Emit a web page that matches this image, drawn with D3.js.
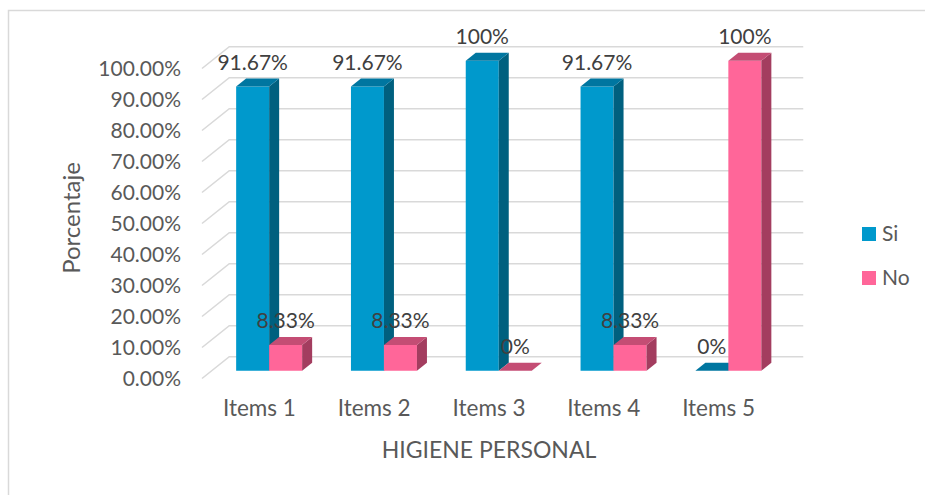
<!DOCTYPE html>
<html>
<head>
<meta charset="utf-8">
<script src="https://cdn.jsdelivr.net/npm/d3@7/dist/d3.min.js"></script>
<style>
  html, body { margin: 0; padding: 0; background: #fff; }
  svg { display: block; font-family: Lato, "Open Sans", sans-serif; }
</style>
</head>
<body>
<svg id="chart" width="925" height="495"></svg>
<script>
const categories = ["Items 1", "Items 2", "Items 3", "Items 4", "Items 5"];
const seriesNames = ["Si", "No"];
const siValues = [91.67, 91.67, 100, 91.67, 0];
const noValues = [8.33, 8.33, 0, 8.33, 100];
const tickValues = [0, 10, 20, 30, 40, 50, 60, 70, 80, 90, 100];
const xTitle = "HIGIENE PERSONAL";
const yTitle = "Porcentaje";

const colors = {
  Si: { front: "#0099CC", side: "#00607F", top: "#0076A0" },
  No: { front: "#FF6699", side: "#A33D5F", top: "#C44D74" }
};

const svg = d3.select("#chart");

// frame
svg.append("rect").attr("x", 8.5).attr("y", 10.5).attr("width", 930).attr("height", 500)
  .attr("fill", "none").attr("stroke", "#d9d9d9").attr("stroke-width", 1.5);

// 3D geometry
const frontLeft = 202, frontRight = 776;
const y = d3.scaleLinear().domain([0, 100]).range([378.5, 68.5]);
const x = d3.scaleBand().domain(categories).range([frontLeft, frontRight]);
const series = d3.scaleBand().domain(seriesNames).range([-33, 33]);
const kx = 1.25;               // horizontal shift per unit of depth
const dFront = 7.8, dBack = 15.8, dWall = 21.8;
const P = (xf, v, d) => [xf + d * kx, y(v) - d];

// gridlines (floor edge + back wall)
const grid = svg.append("g");
tickValues.forEach(v => {
  const pts = [[frontLeft, y(v)], P(frontLeft, v, dWall), P(frontRight, v, dWall)];
  grid.append("polyline").attr("points", pts.map(p => p.join(",")).join(" "))
    .attr("fill", "none").attr("stroke", "#d9d9d9").attr("stroke-width", 1.6);
});

// y tick labels
const fmtTick = d3.format(".2f");
svg.append("g").selectAll("text").data(tickValues).join("text")
  .attr("x", 181).attr("y", d => y(d))
  .attr("dy", "0.35em").attr("text-anchor", "end")
  .attr("fill", "#595959").attr("font-size", 21)
  .text(d => fmtTick(d) + "%");

// bars
const data = [];
categories.forEach((c, i) => {
  data.push({ cat: c, s: "Si", v: siValues[i] });
  data.push({ cat: c, s: "No", v: noValues[i] });
});
const poly = pts => pts.map(p => p.join(",")).join(" ");
const bars = svg.append("g");
data.forEach(d => {
  const cx = x(d.cat) + x.bandwidth() / 2;
  const xl = cx + series(d.s), xr = xl + series.bandwidth();
  const col = colors[d.s];
  const g = bars.append("g");
  const fl0 = P(xl, 0, dFront), fr0 = P(xr, 0, dFront);
  const flt = P(xl, d.v, dFront), frt = P(xr, d.v, dFront);
  const brt = P(xr, d.v, dBack), blt = P(xl, d.v, dBack), br0 = P(xr, 0, dBack);
  g.append("polygon").attr("points", poly([fl0, fr0, frt, flt])).attr("fill", col.front);
  g.append("polygon").attr("points", poly([fr0, frt, brt, br0])).attr("fill", col.side);
  g.append("polygon").attr("points", poly([flt, frt, brt, blt])).attr("fill", col.top);
  d.lx = (fl0[0] + fr0[0]) / 2;
  d.ly = blt[1] - 16;
});

// data labels
const fmtVal = v => (+v.toFixed(2)) + "%";
svg.append("g").selectAll("text").data(data).join("text")
  .attr("x", d => d.lx).attr("y", d => d.ly)
  .attr("dy", "0.35em").attr("text-anchor", "middle")
  .attr("fill", "#404040").attr("font-size", 21)
  .text(d => fmtVal(d.v));

// category labels
svg.append("g").selectAll("text").data(categories).join("text")
  .attr("x", d => x(d) + x.bandwidth() / 2).attr("y", 408)
  .attr("dy", "0.35em").attr("text-anchor", "middle")
  .attr("fill", "#595959").attr("font-size", 22.5)
  .text(d => d);

// axis titles
svg.append("text").attr("x", (frontLeft + frontRight) / 2).attr("y", 450)
  .attr("dy", "0.35em").attr("text-anchor", "middle")
  .attr("fill", "#595959").attr("font-size", 23).text(xTitle);
svg.append("text").attr("transform", "translate(72,218) rotate(-90)")
  .attr("dy", "0.35em").attr("text-anchor", "middle")
  .attr("fill", "#595959").attr("font-size", 24).text(yTitle);

// legend
const legend = svg.append("g");
seriesNames.forEach((s, i) => {
  const ly = 234 + i * 44;
  legend.append("rect").attr("x", 862).attr("y", ly - 7).attr("width", 14).attr("height", 14)
    .attr("fill", colors[s].front);
  legend.append("text").attr("x", 882).attr("y", ly).attr("dy", "0.35em")
    .attr("fill", "#595959").attr("font-size", 21).text(s);
});
</script>
</body>
</html>
